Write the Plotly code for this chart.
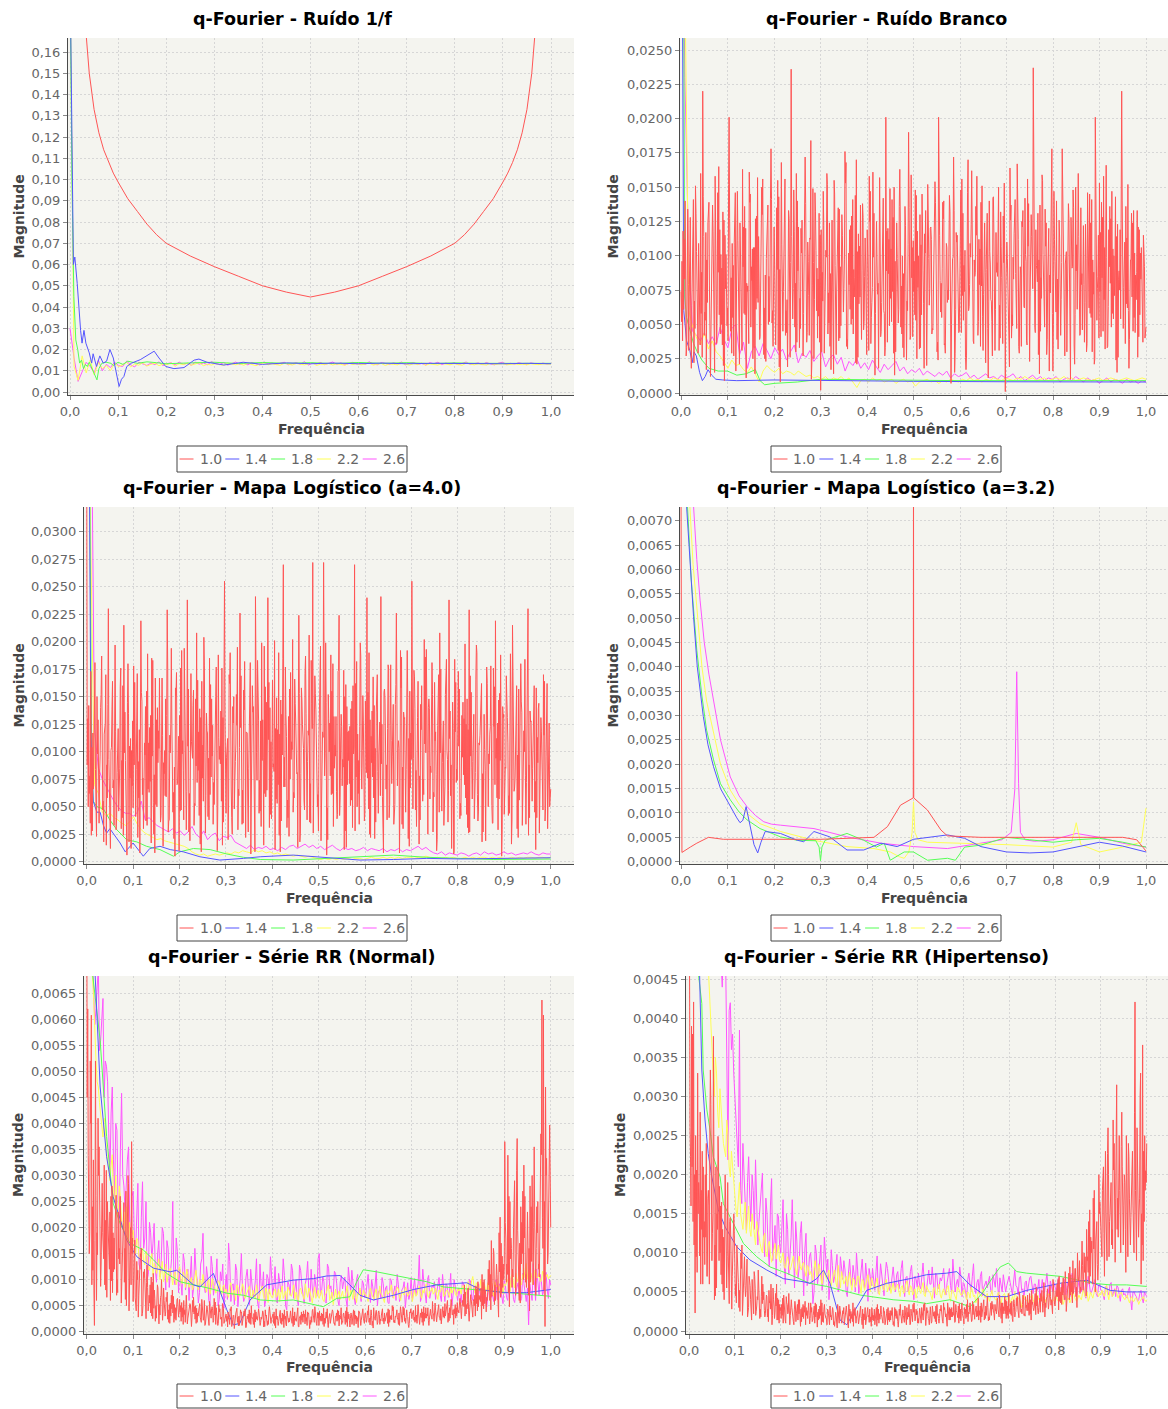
import numpy as np
import plotly.graph_objects as go

W, H = 1168, 1409

SERIES_NAMES = ["1.0", "1.4", "1.8", "2.2", "2.6"]
SERIES_COLORS = ["#ff5555", "#5555ff", "#55ff55", "#ffff55", "#ff55ff"]

U4 = 1e-4
U5 = 1e-5

# Dense spectra are stored in interleaved parts: "_a", "_b" (and "_c") hold
# samples 0,1(,2) of every group of consecutive bins on the same grid.

# ---------------- Ruído 1/f (units of 1e-4) ----------------
p1_red_f = [0.03, 0.035, 0.04, 0.05, 0.06, 0.07, 0.08, 0.09, 0.10, 0.12, 0.14, 0.16, 0.18, 0.20,
            0.25, 0.30, 0.35, 0.40, 0.45, 0.50, 0.55, 0.60, 0.65, 0.70, 0.75, 0.80, 0.82, 0.84,
            0.86, 0.88, 0.90, 0.91, 0.92, 0.93, 0.94, 0.95, 0.96, 0.965, 0.97]
p1_red_v = [1780, 1630, 1500, 1330, 1220, 1140, 1080, 1030, 988, 910, 850, 790, 740, 700,
            640, 590, 545, 500, 470, 447, 470, 500, 545, 590, 640, 700, 740, 790,
            850, 910, 988, 1030, 1080, 1140, 1220, 1330, 1500, 1630, 1780]
p1_blue_f = [0.0, 0.005, 0.007, 0.01, 0.015, 0.022, 0.025, 0.029, 0.033, 0.04, 0.045, 0.048,
             0.055, 0.062, 0.069, 0.076, 0.083, 0.09, 0.097, 0.102, 0.107, 0.112, 0.118, 0.128,
             0.146, 0.164, 0.175, 0.185, 0.199, 0.216, 0.237, 0.258, 0.268, 0.285, 0.32, 0.36,
             0.40, 0.45, 0.50, 0.55, 0.60, 0.65, 0.70, 0.75, 0.80, 0.85, 0.90, 0.95, 1.0]
p1_blue_v = [2000, 1000, 600, 635, 510, 290, 230, 290, 230, 184, 136, 180,
             120, 170, 136, 145, 200, 160, 73, 26, 60, 73, 120, 136,
             152, 176, 192, 160, 120, 110, 115, 150, 155, 140, 127, 140,
             130, 137, 133, 136, 133, 136, 133, 135, 134, 136, 133, 135, 133]
p1_green_f = [0.0, 0.004, 0.008, 0.012, 0.016, 0.02, 0.024, 0.028, 0.032, 0.036, 0.04, 0.046,
              0.052, 0.056, 0.06, 0.066, 0.075, 0.085, 0.09, 0.1, 0.11, 0.12, 0.14, 0.16, 0.18,
              0.2, 0.25, 0.3, 0.35, 0.4, 0.45, 0.5, 0.55, 0.6, 0.65, 0.7, 0.75, 0.8, 0.85,
              0.9, 0.95, 1.0]
p1_green_v = [2000, 1000, 450, 245, 200, 136, 150, 110, 130, 120, 140, 110,
              80, 57, 110, 135, 140, 135, 125, 140, 130, 145, 135, 142, 138,
              133, 137, 140, 134, 139, 135, 138, 134, 139, 135, 138, 134, 137, 135,
              136, 134, 135]
p1_yellow = [2000, 120, 55, 170, 90, 150, 80, 140, 110, 125,
             100, 135, 120, 128, 140, 118, 132, 126, 138, 122,
             130, 136, 124, 131, 128, 137, 121, 133, 129, 135,
             126, 132, 138, 124, 130, 127, 134, 129, 125, 136,
             131, 128, 133, 126, 135, 130, 124, 132, 137, 128,
             133, 129, 126, 135, 131, 127, 134, 130, 128, 132,
             136, 125, 131, 129, 134, 127, 132, 130, 126, 135,
             129, 133, 128, 131, 136, 127, 130, 134, 125, 132,
             130, 128, 135, 131, 127, 133, 129, 136, 126, 132,
             131, 127, 134, 130, 128, 133, 129, 126, 135, 131,
             128, 132, 130, 127, 134, 129, 131, 133, 128, 130,
             132, 129, 131, 128, 133, 130, 129, 132, 130, 131]
p1_magenta = [300, 160, 50, 95, 140, 120, 90, 150, 100, 130,
              115, 140, 125, 120, 145, 128, 118, 140, 132, 125,
              136, 129, 142, 124, 133, 138, 127, 141, 130, 135,
              126, 140, 131, 137, 128, 143, 133, 129, 139, 126,
              134, 141, 130, 136, 128, 139, 133, 127, 142, 131,
              137, 129, 135, 140, 128, 134, 138, 130, 143, 127,
              136, 132, 139, 129, 134, 141, 130, 137, 128, 135,
              140, 131, 136, 129, 142, 133, 128, 138, 134, 130,
              137, 132, 141, 128, 135, 139, 130, 134, 127, 138,
              133, 140, 129, 136, 131, 138, 128, 135, 141, 130,
              134, 137, 129, 139, 132, 128, 136, 140, 130, 135,
              131, 138, 133, 129, 137, 134, 130, 136, 132, 135]

# ---------------- Ruído Branco (units of 1e-4) ----------------
p2_red_a = [74, 38, 112, 55, 96, 31, 128, 64, 141, 47,
            103, 29, 84, 58, 220, 42, 117, 66, 139, 12,
            95, 71, 158, 36, 88, 119, 50, 132, 9, 101,
            62, 201, 45, 109, 27, 146, 83, 57, 124, 39,
            92, 136, 11, 78, 161, 48, 105, 33, 127, 69,
            114, 41, 150, 86, 25, 98, 137, 52, 178, 60,
            121, 35, 90, 143, 8, 108, 74, 156, 44, 99,
            65, 236, 54, 118, 30, 140, 81, 47, 126, 58,
            172, 37, 96, 113, 10, 149, 68, 104, 40, 131,
            2, 88, 122, 55, 160, 73, 34, 110, 63, 145,
            28, 97, 134, 49, 115, 76, 153, 39, 102, 61,
            129, 43, 84, 170, 26, 107, 71, 138, 52, 94,
            119, 31, 147, 66, 99, 13, 125, 80, 157, 45,
            91, 58, 201, 37, 112, 69, 141, 29, 96, 124,
            51, 163, 78, 33, 118, 87, 60, 135, 42, 106,
            74, 148, 25, 100, 130, 57, 89, 116, 38, 152,
            64, 121, 47, 93, 139, 30, 201, 82, 55, 127,
            36, 109, 75, 144, 7, 98, 133, 61, 115, 44,
            90, 156, 53, 104, 27, 170, 79, 123, 41, 97,
            136, 59, 112, 34, 151, 72, 88, 128, 11, 103,
            67, 142, 46, 117, 85, 31, 132, 58, 95, 1,
            110, 77, 164, 40, 99, 126, 54, 145, 29, 86,
            121, 63, 101, 35, 138, 70, 114, 237, 48, 93,
            131, 14, 84, 155, 61, 107, 39, 120, 73, 178,
            50, 96, 140, 32, 113, 68, 149, 44, 102, 81,
            127, 10, 91, 135, 57, 108, 160, 42, 79, 118,
            37, 98, 146, 62, 124, 30, 88, 201, 53, 115,
            74, 139, 45, 106, 166, 34, 92, 127, 58, 100,
            143, 15, 83, 119, 220, 47, 110, 65, 152, 39,
            97, 124, 55, 86, 133, 41, 102, 69, 115, 40]
p2_red_b = [52, 118, 83, 27, 134, 70, 41, 96, 22, 151,
            66, 109, 35, 88, 143, 59, 17, 124, 78, 46,
            137, 30, 102, 64, 165, 43, 91, 20, 115, 72,
            38, 127, 84, 55, 110, 16, 147, 69, 98, 31,
            121, 57, 80, 39, 139, 92, 25, 106, 61, 157,
            45, 99, 130, 28, 86, 117, 50, 73, 141, 34,
            94, 62, 155, 19, 107, 81, 125, 42, 68, 133,
            26, 114, 76, 48, 160, 89, 33, 120, 56, 101,
            138, 44, 71, 112, 23, 95, 146, 60, 83, 37,
            119, 67, 29, 104, 152, 51, 87, 126, 14, 93,
            75, 135, 40, 111, 63, 97, 168, 32, 79, 122,
            54, 90, 144, 21, 116, 70, 39, 128, 85, 47,
            103, 158, 36, 77, 131, 58, 94, 18, 113, 66,
            142, 27, 89, 120, 49, 105, 74, 150, 30, 98,
            61, 125, 43, 87, 136, 24, 108, 72, 159, 41,
            96, 53, 118, 80, 33, 145, 65, 102, 20, 129,
            76, 112, 46, 154, 88, 37, 123, 59, 91, 140,
            29, 106, 68, 132, 50, 99, 15, 117, 82, 45,
            148, 71, 93, 26, 127, 60, 109, 162, 38, 85,
            115, 42, 79, 139, 56, 100, 22, 131, 67, 94,
            52, 143, 31, 88, 121, 64, 107, 36, 153, 75,
            98, 19, 126, 57, 83, 141, 47, 112, 70, 34,
            133, 62, 96, 156, 25, 104, 78, 119, 44, 90,
            28, 137, 69, 101, 48, 124, 86, 16, 110, 58,
            147, 81, 39, 118, 65, 95, 134, 27, 103, 73,
            53, 128, 92, 35, 150, 61, 114, 43, 87, 122,
            66, 30, 108, 145, 55, 97, 21, 129, 76, 40,
            117, 84, 158, 32, 99, 63, 136, 48, 105, 71,
            24, 123, 89, 54, 140, 77, 36, 113, 60, 96,
            131, 45, 102, 68, 26, 119, 83, 52, 108, 44]
p2_red_c = [96, 61, 140, 33, 79, 122, 18, 105, 67, 131,
            44, 88, 160, 26, 114, 53, 97, 138, 40, 72,
            118, 15, 84, 146, 57, 101, 35, 126, 76, 49,
            152, 68, 29, 93, 134, 47, 111, 21, 87, 163,
            58, 120, 74, 36, 145, 82, 106, 14, 129, 66,
            39, 98, 156, 62, 23, 117, 85, 142, 51, 104,
            73, 135, 31, 90, 168, 45, 112, 60, 19, 127,
            95, 54, 148, 80, 37, 121, 69, 102, 27, 139,
            63, 110, 42, 184, 78, 25, 132, 91, 56, 115,
            30, 147, 71, 99, 43, 124, 17, 86, 155, 64,
            108, 38, 92, 130, 59, 176, 34, 81, 119, 50,
            141, 70, 22, 103, 65, 137, 89, 46, 113, 28,
            83, 125, 55, 161, 20, 97, 72, 143, 41, 106,
            60, 33, 118, 87, 149, 52, 128, 13, 94, 75,
            136, 48, 100, 26, 122, 67, 190, 39, 84, 111,
            57, 144, 77, 32, 108, 91, 18, 133, 62, 98,
            120, 43, 86, 154, 69, 24, 115, 80, 139, 35,
            101, 66, 127, 50, 93, 172, 29, 110, 58, 82,
            44, 131, 74, 17, 146, 63, 99, 121, 36, 88,
            158, 52, 105, 78, 31, 124, 90, 47, 140, 68,
            27, 113, 61, 95, 150, 40, 84, 129, 56, 103,
            73, 19, 137, 49, 116, 87, 167, 34, 92, 125,
            64, 142, 38, 107, 23, 130, 76, 53, 119, 81,
            97, 45, 159, 70, 134, 28, 101, 86, 145, 16,
            112, 59, 83, 126, 42, 178, 67, 94, 30, 138,
            55, 104, 148, 21, 89, 117, 63, 135, 46, 79,
            123, 36, 96, 58, 141, 72, 25, 109, 85, 153,
            41, 128, 68, 100, 33, 119, 80, 147, 54, 91,
            114, 26, 75, 162, 49, 102, 136, 62, 18, 97,
            70, 133, 44, 88, 121, 57, 106, 37, 92, 48]
p2_blue_f = [0.0, 0.003, 0.006, 0.012, 0.019, 0.024, 0.028, 0.033, 0.040, 0.046, 0.052, 0.058,
             0.066, 0.075, 0.09, 0.12, 0.2, 0.3, 0.5, 0.7, 0.85, 1.0]
p2_blue_v = [900, 300, 60, 38, 31, 22, 30, 27, 15, 9, 12, 17,
             13, 10, 9.5, 9, 9.5, 9, 8.5, 8.2, 8, 8]
p2_green_f = [0.0, 0.004, 0.008, 0.012, 0.02, 0.027, 0.035, 0.045, 0.06, 0.08, 0.1, 0.12,
              0.14, 0.16, 0.17, 0.18, 0.2, 0.25, 0.3, 0.35, 0.45, 0.6, 0.8, 1.0]
p2_green_v = [900, 400, 70, 55, 45, 36, 30, 24, 18, 16, 16, 13,
              14, 17, 9, 6, 7, 8, 10, 10, 9.5, 9, 9, 9]
p2_yellow = [450, 300, 60, 48, 40, 35, 44, 32, 38, 30,
             27, 22, 18, 24, 20, 21, 17, 15, 19, 14,
             8, 16, 20, 17, 15, 18, 14, 16, 15, 13,
             16, 14, 12, 13, 11, 12, 10, 12, 9, 11,
             10, 12, 9, 11, 8, 4, 9, 10, 8, 11,
             9, 10, 8, 9, 10, 7, 9, 10, 8, 9,
             5, 8, 9, 10, 8, 9, 7, 9, 8, 10,
             9, 8, 10, 9, 11, 9, 10, 8, 10, 9,
             11, 10, 9, 11, 10, 9, 11, 10, 12, 10,
             11, 9, 10, 11, 9, 10, 11, 10, 12, 10,
             11, 9, 10, 11, 10, 9, 10, 11, 9, 10,
             11, 10, 9, 10, 11, 10, 9, 10, 11, 10]
p2_magenta = [450, 230, 95, 45, 42, 38, 44, 36, 41, 35,
              48, 39, 33, 47, 50, 28, 37, 18, 30, 34,
              27, 36, 31, 25, 33, 28, 32, 24, 30, 35,
              22, 29, 26, 31, 23, 27, 30, 19, 25, 28,
              21, 26, 16, 23, 20, 25, 18, 22, 17, 24,
              19, 15, 21, 17, 20, 23, 16, 19, 14, 17,
              15, 18, 13, 16, 14, 12, 15, 13, 16, 11,
              14, 12, 13, 15, 11, 13, 10, 12, 14, 11,
              12, 10, 13, 11, 12, 14, 10, 12, 9, 11,
              13, 10, 12, 9, 11, 10, 12, 8, 10, 11,
              9, 12, 10, 8, 11, 9, 10, 7, 9, 11,
              8, 10, 9, 7, 10, 8, 9, 7, 9, 8]

# ---------------- Mapa Logístico a=4.0 (units of 1e-4) ----------------
p3_red_a = [400, 50, 78, 24, 117, 159, 62, 98, 35, 140,
            71, 18, 126, 88, 230, 45, 104, 67, 152, 29,
            113, 58, 176, 40, 215, 92, 6, 135, 76, 101,
            49, 163, 84, 22, 120, 219, 61, 97, 141, 33,
            108, 73, 185, 54, 8, 129, 90, 167, 42, 115,
            80, 148, 229, 37, 99, 125, 63, 5, 172, 86,
            133, 47, 110, 194, 70, 238, 27, 122, 94, 156,
            51, 208, 83, 139, 9, 106, 178, 60, 117, 38,
            161, 96, 72, 143, 30, 188, 105, 55, 131, 255,
            44, 112, 170, 79, 25, 150, 91, 124, 66, 226,
            100, 35, 182, 118, 57, 137, 7, 160, 87, 241,
            74, 128, 46, 199, 95, 62, 145, 240, 31, 109,
            165, 82, 121, 53, 190, 9, 134, 270, 68, 114,
            40, 157, 93, 202, 58, 127, 81, 224, 26, 147,
            103, 171, 64, 119, 36, 183, 272, 88, 138, 50,
            111, 196, 73, 272, 98, 6, 152, 126, 61, 180,
            85, 132, 43, 224, 107, 69, 174, 28, 141, 92,
            123, 56, 160, 270, 77, 116, 34, 187, 101, 65,
            146, 240, 48, 129, 90, 168, 21, 136, 82, 113,
            241, 59, 154, 97, 38, 175, 124, 71, 143, 52,
            226, 104, 8, 158, 86, 130, 45, 192, 112, 67,
            255, 94, 139, 32, 164, 78, 120, 55, 202, 99,
            41, 148, 87, 181, 63, 110, 10, 155, 208, 75,
            127, 49, 166, 93, 238, 60, 137, 7, 118, 84,
            173, 39, 106, 145, 70, 125, 31, 229, 96, 57,
            134, 81, 190, 46, 115, 162, 27, 102, 140, 66,
            89, 178, 35, 123, 219, 58, 147, 92, 5, 131,
            76, 169, 108, 44, 150, 215, 64, 119, 30, 157,
            98, 136, 52, 184, 72, 230, 40, 128, 85, 160,
            11, 113, 144, 61, 99, 170, 37, 122, 74, 50]
p3_red_b = [88, 142, 35, 104, 66, 181, 23, 129, 79, 152,
            47, 116, 170, 58, 93, 12, 138, 74, 197, 40,
            121, 85, 30, 160, 99, 54, 145, 18, 112, 69,
            178, 43, 127, 91, 8, 154, 76, 108, 37, 189,
            63, 133, 96, 25, 167, 50, 119, 82, 143, 14,
            101, 59, 175, 38, 126, 87, 21, 158, 70, 114,
            46, 192, 83, 137, 29, 105, 62, 171, 94, 33,
            148, 72, 118, 16, 164, 55, 99, 135, 41, 185,
            77, 124, 52, 150, 10, 113, 89, 176, 36, 131,
            95, 20, 162, 67, 141, 48, 107, 195, 60, 122,
            34, 156, 84, 117, 27, 172, 73, 136, 53, 100,
            183, 44, 128, 92, 15, 159, 65, 111, 140, 39,
            86, 201, 57, 120, 24, 147, 97, 68, 177, 31,
            132, 75, 109, 45, 166, 90, 13, 153, 80, 125,
            56, 187, 38, 115, 71, 144, 26, 169, 102, 61,
            139, 19, 118, 87, 199, 49, 130, 78, 155, 32,
            106, 64, 173, 42, 134, 93, 11, 161, 70, 119,
            51, 146, 98, 28, 182, 62, 123, 85, 151, 37,
            114, 76, 190, 22, 137, 58, 103, 168, 44, 127,
            89, 17, 157, 66, 121, 40, 179, 96, 34, 143,
            72, 110, 55, 186, 30, 131, 84, 149, 14, 117,
            63, 174, 47, 125, 92, 38, 160, 75, 107, 193,
            25, 139, 81, 152, 59, 118, 20, 170, 99, 46,
            128, 68, 184, 36, 112, 88, 145, 9, 163, 74,
            105, 53, 133, 79, 198, 43, 120, 27, 154, 91,
            39, 166, 61, 108, 141, 18, 129, 83, 177, 50,
            116, 71, 35, 159, 94, 126, 57, 188, 29, 134,
            86, 148, 42, 103, 16, 171, 67, 124, 97, 56,
            180, 33, 119, 78, 150, 24, 137, 64, 109, 45,
            158, 90, 26, 131, 73, 115, 48, 162, 85, 60]
p3_red_c = [130, 62, 173, 28, 111, 84, 150, 39, 96, 187,
            55, 125, 15, 143, 72, 101, 164, 33, 118, 81,
            46, 159, 92, 24, 136, 67, 180, 105, 12, 128,
            88, 41, 171, 58, 114, 146, 30, 97, 155, 66,
            122, 17, 183, 79, 52, 140, 103, 36, 167, 90,
            60, 133, 27, 115, 194, 45, 86, 151, 71, 10,
            176, 98, 38, 124, 64, 157, 19, 109, 142, 53,
            87, 165, 42, 131, 76, 204, 26, 119, 94, 61,
            148, 34, 112, 177, 50, 93, 137, 15, 160, 82,
            110, 57, 190, 40, 126, 73, 152, 29, 104, 169,
            65, 138, 22, 117, 85, 181, 48, 141, 9, 99,
            156, 74, 32, 129, 196, 59, 107, 163, 43, 120,
            89, 11, 149, 70, 116, 37, 185, 95, 134, 56,
            23, 172, 102, 63, 144, 80, 127, 18, 158, 108,
            47, 135, 91, 206, 35, 121, 68, 153, 84, 28,
            166, 54, 113, 78, 145, 20, 100, 188, 62, 132,
            96, 39, 174, 58, 123, 86, 150, 13, 118, 71,
            139, 31, 105, 162, 50, 92, 199, 66, 128, 44,
            81, 154, 25, 114, 77, 142, 36, 170, 97, 60,
            125, 8, 147, 88, 179, 52, 110, 133, 41, 161,
            69, 103, 192, 34, 136, 75, 120, 21, 155, 93,
            48, 168, 83, 131, 16, 143, 99, 61, 186, 108,
            140, 57, 116, 27, 163, 79, 124, 45, 175, 90,
            33, 152, 101, 65, 137, 12, 121, 184, 72, 111,
            157, 42, 95, 130, 58, 148, 26, 169, 86, 119,
            64, 197, 37, 106, 145, 80, 134, 19, 162, 98,
            123, 51, 176, 70, 112, 29, 153, 94, 141, 43,
            85, 131, 60, 189, 38, 117, 76, 160, 22, 109,
            146, 67, 100, 34, 172, 88, 127, 55, 154, 73,
            40, 139, 82, 118, 47, 164, 96, 30, 126, 66]
p3_blue_f = [0.0, 0.005, 0.009, 0.014, 0.022, 0.029, 0.036, 0.043, 0.05, 0.072, 0.083, 0.1,
             0.122, 0.136, 0.158, 0.18, 0.208, 0.244, 0.287, 0.338, 0.374, 0.445, 0.517,
             0.553, 0.589, 0.661, 0.733, 0.805, 0.876, 1.0]
p3_blue_v = [800, 400, 117, 55, 45, 45, 33, 26, 30, 17, 9, 17,
             5, 12, 14, 11, 9, 4.5, 1.5, 3, 4.5, 6, 4,
             3, 1.5, 2, 3, 2.5, 3, 3.6]
p3_green_f = [0.0, 0.006, 0.011, 0.014, 0.022, 0.036, 0.05, 0.065, 0.086, 0.108, 0.129, 0.158,
              0.187, 0.201, 0.23, 0.266, 0.302, 0.338, 0.374, 0.445, 0.517, 0.589, 0.661,
              0.733, 0.805, 0.876, 1.0]
p3_green_v = [700, 400, 86, 55, 50, 48, 38, 29, 20, 18, 14, 11,
              5, 9, 12, 11, 7, 4, 2, 1.5, 3, 5, 6,
              4, 3, 2, 2.4]
p3_yellow = [600, 300, 70, 62, 45, 42, 44, 40, 38, 35,
             33, 36, 41, 34, 29, 26, 24, 22, 20, 21,
             19, 18, 17, 16, 15, 14, 12, 9, 7, 6,
             7, 5, 6, 7, 6, 7, 8, 7, 9, 8,
             10, 9, 8, 11, 9, 10, 8, 9, 7, 8,
             6, 7, 6, 5, 6, 5, 4, 5, 4, 3,
             2, 3, 2, 3, 2, 3, 2, 3, 2, 3,
             3, 2, 3, 4, 3, 3, 4, 3, 4, 3,
             4, 3, 4, 4, 3, 4, 4, 5, 4, 3,
             4, 3, 4, 3, 4, 3, 3, 4, 3, 4,
             3, 4, 4, 3, 4, 3, 4, 3, 3, 4,
             3, 4, 3, 4, 4, 3, 4, 4, 3, 4]
p3_magenta = [600, 500, 120, 85, 75, 68, 62, 55, 50, 46,
              44, 44, 41, 45, 55, 38, 40, 36, 33, 31,
              29, 27, 30, 26, 28, 24, 27, 32, 25, 22,
              28, 20, 24, 26, 19, 23, 22, 24, 18, 16,
              14, 12, 15, 11, 13, 12, 14, 11, 12, 10,
              13, 11, 14, 15, 12, 14, 16, 13, 15, 12,
              14, 11, 13, 15, 12, 10, 13, 11, 12, 10,
              11, 13, 10, 12, 11, 10, 12, 9, 11, 10,
              12, 9, 11, 10, 12, 14, 11, 13, 10, 8,
              7, 9, 6, 8, 7, 6, 8, 7, 5, 7,
              8, 6, 9, 7, 8, 6, 7, 9, 7, 8,
              6, 7, 8, 7, 9, 7, 6, 8, 7, 7]

# ---------------- Mapa Logístico a=3.2 (units of 1e-5) ----------------
p4_red_f = [0.0, 0.002, 0.02, 0.034, 0.059, 0.07, 0.091, 0.2, 0.3, 0.415, 0.444, 0.472,
            0.4995, 0.5, 0.5005, 0.53, 0.559, 0.573, 0.645, 0.8, 0.95, 0.98, 1.0]
p4_red_v = [800, 19, 30, 38, 50, 49, 46, 46, 46, 50, 72, 116,
            131, 800, 131, 106, 65, 53, 50, 50, 50, 45, 22]
p4_blue_f = [0.0, 0.008, 0.012, 0.02, 0.027, 0.035, 0.048, 0.058, 0.07, 0.085, 0.106, 0.12,
             0.127, 0.133, 0.14, 0.145, 0.149, 0.157, 0.165, 0.172, 0.181, 0.214, 0.25, 0.264,
             0.286, 0.32, 0.357, 0.393, 0.43, 0.465, 0.5, 0.537, 0.573, 0.61, 0.645, 0.7,
             0.75, 0.8, 0.85, 0.9, 0.95, 1.0]
p4_blue_v = [2000, 1000, 730, 600, 503, 400, 298, 240, 195, 150, 113, 90,
             80, 85, 113, 90, 65, 35, 18, 40, 62, 58, 44, 41,
             62, 51, 24, 24, 38, 31, 46, 50, 55, 48, 31, 20,
             18, 20, 30, 40, 32, 20]
p4_green_f = [0.0, 0.01, 0.014, 0.022, 0.034, 0.045, 0.055, 0.07, 0.085, 0.106, 0.125, 0.142,
              0.17, 0.214, 0.25, 0.29, 0.297, 0.3, 0.303, 0.31, 0.357, 0.393, 0.42, 0.437,
              0.45, 0.48, 0.5, 0.53, 0.573, 0.59, 0.61, 0.645, 0.7, 0.75, 0.8, 0.85,
              0.9, 0.95, 1.0]
p4_green_v = [2000, 1000, 730, 580, 434, 340, 270, 209, 160, 127, 102, 86,
              68, 51, 44, 43, 30, 2, 30, 44, 58, 44, 30, 38,
              3, 20, 20, 3, 7, 3, 30, 34, 50, 45, 40, 45,
              48, 40, 30]
p4_yellow_f = [0.0, 0.012, 0.019, 0.026, 0.034, 0.045, 0.055, 0.07, 0.085, 0.106, 0.125, 0.142,
               0.17, 0.214, 0.286, 0.357, 0.415, 0.45, 0.47, 0.48, 0.49, 0.497, 0.5, 0.503,
               0.51, 0.53, 0.6, 0.7, 0.8, 0.84, 0.85, 0.86, 0.9, 0.95, 0.99, 1.0]
p4_yellow_v = [2000, 1000, 730, 610, 523, 400, 330, 263, 200, 147, 118, 99,
               78, 62, 44, 31, 27, 20, 10, 7, 20, 60, 123, 60,
               45, 40, 38, 35, 30, 40, 80, 35, 20, 30, 40, 110]
p4_magenta_f = [0.0, 0.02, 0.027, 0.034, 0.041, 0.05, 0.06, 0.07, 0.085, 0.106, 0.125, 0.142,
                0.16, 0.178, 0.195, 0.214, 0.25, 0.286, 0.32, 0.357, 0.43, 0.5, 0.573, 0.645,
                0.69, 0.71, 0.718, 0.722, 0.726, 0.73, 0.74, 0.76, 0.8, 0.85, 0.9, 0.95, 1.0]
p4_magenta_v = [2000, 900, 730, 620, 537, 450, 385, 332, 250, 174, 135, 113,
                95, 82, 77, 75, 71, 68, 60, 51, 38, 31, 27, 38,
                45, 60, 150, 390, 160, 60, 45, 42, 45, 58, 50, 38, 30]

# ---------------- Série RR Normal (units of 1e-5) ----------------
p5_red_a = [900, 338, 192, 608, 118, 12, 262, 148, 355, 87,
            285, 140, 214, 66, 172, 230, 98, 190, 120, 262,
            75, 160, 205, 110, 248, 62, 138, 285, 92, 365,
            58, 176, 40, 118, 96, 144, 35, 104, 72, 128,
            48, 90, 30, 112, 64, 26, 84, 52, 70, 22,
            60, 38, 76, 18, 55, 44, 68, 25, 50, 35,
            62, 20, 46, 33, 58, 15, 40, 52, 28, 66,
            24, 45, 30, 54, 18, 38, 60, 26, 42, 12,
            36, 48, 22, 57, 30, 16, 44, 28, 50, 20,
            34, 9, 26, 40, 15, 31, 22, 45, 11, 28,
            38, 18, 30, 8, 25, 42, 14, 27, 35, 19,
            29, 44, 12, 24, 36, 10, 32, 21, 48, 16,
            26, 38, 7, 30, 20, 41, 14, 33, 24, 11,
            35, 19, 28, 46, 13, 25, 39, 9, 31, 22,
            40, 15, 27, 34, 6, 29, 43, 18, 24, 37,
            12, 30, 21, 45, 16, 26, 8, 35, 23, 39,
            17, 28, 42, 11, 31, 20, 36, 14, 47, 25,
            9, 33, 22, 40, 15, 27, 38, 12, 29, 19,
            36, 24, 50, 13, 31, 7, 26, 41, 18, 33,
            21, 44, 15, 28, 37, 10, 30, 23, 48, 17,
            34, 26, 12, 39, 22, 45, 16, 29, 8, 36,
            25, 41, 18, 32, 52, 14, 27, 38, 20, 46,
            30, 12, 43, 24, 35, 55, 19, 40, 28, 15,
            48, 26, 37, 60, 21, 44, 33, 14, 52, 30,
            41, 64, 25, 50, 90, 34, 56, 20, 71, 45,
            62, 30, 82, 48, 68, 24, 95, 54, 38, 76,
            137, 42, 88, 150, 60, 110, 28, 220, 74, 130,
            365, 95, 339, 48, 180, 120, 230, 70, 371, 140,
            55, 210, 100, 260, 85, 165, 40, 240, 118, 355,
            70, 190, 130, 290, 637, 608, 10, 333, 150, 397]
p5_red_b = [450, 280, 520, 90, 330, 175, 60, 410, 210, 130,
            190, 320, 80, 250, 145, 60, 280, 115, 205, 70,
            230, 130, 55, 180, 95, 270, 120, 40, 200, 150,
            110, 65, 135, 28, 90, 160, 50, 120, 25, 85,
            70, 36, 95, 45, 20, 78, 58, 32, 100, 40,
            44, 66, 24, 52, 30, 80, 18, 46, 62, 28,
            38, 56, 14, 42, 70, 26, 48, 20, 60, 34,
            50, 18, 40, 28, 62, 22, 12, 46, 34, 58,
            26, 40, 64, 14, 34, 52, 24, 10, 44, 30,
            20, 38, 14, 48, 24, 6, 36, 18, 30, 42,
            12, 28, 44, 20, 34, 16, 50, 24, 8, 38,
            22, 36, 18, 30, 9, 42, 26, 14, 38, 24,
            34, 12, 44, 22, 28, 16, 36, 8, 30, 40,
            18, 30, 24, 10, 38, 20, 46, 26, 14, 34,
            28, 42, 12, 36, 22, 18, 32, 48, 16, 26,
            40, 20, 34, 10, 28, 44, 24, 16, 38, 30,
            12, 36, 22, 32, 46, 18, 28, 40, 10, 34,
            26, 14, 42, 24, 30, 8, 36, 22, 44, 16,
            28, 40, 18, 34, 12, 46, 22, 30, 38, 14,
            32, 20, 36, 26, 16, 42, 24, 50, 18, 30,
            42, 14, 30, 24, 48, 20, 36, 28, 16, 44,
            34, 22, 50, 16, 38, 28, 44, 12, 36, 26,
            46, 24, 32, 58, 20, 40, 30, 52, 22, 36,
            28, 54, 40, 18, 46, 62, 32, 44, 26, 56,
            36, 58, 46, 72, 30, 52, 84, 40, 62, 28,
            50, 88, 40, 70, 58, 110, 44, 80, 66, 120,
            60, 175, 95, 52, 125, 80, 190, 66, 145, 100,
            210, 130, 75, 250, 160, 105, 290, 90, 195, 60,
            240, 150, 320, 95, 185, 70, 280, 135, 90, 210,
            160, 250, 105, 380, 220, 80, 470, 190, 260, 300]
p5_red_c = [620, 150, 400, 240, 80, 520, 190, 300, 110, 230,
            160, 90, 310, 200, 120, 260, 75, 180, 240, 100,
            140, 260, 85, 210, 160, 50, 300, 130, 90, 180,
            140, 45, 100, 70, 150, 30, 115, 60, 95, 40,
            55, 105, 25, 80, 50, 90, 15, 66, 38, 84,
            30, 58, 42, 16, 70, 36, 52, 22, 64, 40,
            50, 28, 60, 18, 44, 32, 54, 10, 38, 48,
            16, 36, 52, 20, 44, 30, 14, 50, 24, 40,
            44, 18, 32, 46, 12, 38, 26, 54, 16, 34,
            30, 24, 44, 10, 32, 20, 40, 28, 12, 36,
            22, 40, 8, 30, 18, 36, 26, 14, 42, 24,
            34, 14, 28, 40, 20, 30, 12, 38, 18, 28,
            16, 30, 24, 12, 36, 26, 20, 42, 14, 32,
            26, 40, 16, 30, 22, 34, 10, 28, 38, 18,
            34, 20, 38, 26, 14, 40, 22, 30, 12, 36,
            22, 36, 14, 26, 38, 18, 32, 24, 42, 16,
            30, 20, 40, 24, 14, 34, 26, 18, 38, 22,
            36, 24, 12, 32, 20, 40, 16, 30, 26, 34,
            18, 32, 26, 42, 20, 28, 36, 14, 40, 24,
            38, 26, 20, 34, 44, 18, 32, 40, 22, 28,
            24, 36, 48, 18, 32, 26, 42, 14, 38, 30,
            40, 28, 20, 44, 30, 36, 18, 48, 26, 34,
            22, 42, 30, 36, 48, 24, 38, 28, 44, 32,
            40, 30, 50, 36, 26, 56, 42, 34, 46, 38,
            50, 40, 60, 48, 76, 44, 36, 66, 52, 58,
            70, 54, 96, 62, 84, 50, 100, 72, 60, 90,
            110, 68, 160, 90, 130, 75, 115, 170, 85, 120,
            180, 110, 260, 140, 85, 200, 150, 310, 120, 170,
            130, 270, 180, 110, 230, 160, 95, 300, 200, 150,
            240, 120, 200, 340, 160, 250, 300, 130, 280, 200]
p5_blue_f = [0.0, 0.018, 0.029, 0.043, 0.057, 0.086, 0.108, 0.144, 0.18, 0.194, 0.23, 0.244,
             0.273, 0.302, 0.316, 0.33, 0.352, 0.388, 0.445, 0.489, 0.517, 0.546, 0.567, 0.589,
             0.618, 0.661, 0.704, 0.754, 0.819, 0.848, 0.898, 0.948, 1.0]
p5_blue_v = [1500, 690, 470, 336, 259, 176, 144, 122, 115, 118, 90, 86,
             112, 42, 13, 16, 61, 90, 99, 102, 107, 108, 90, 70,
             61, 70, 81, 90, 94, 81, 75, 75, 81]
p5_green_f = [0.0, 0.011, 0.029, 0.043, 0.057, 0.072, 0.093, 0.122, 0.144, 0.172, 0.201, 0.23,
              0.266, 0.302, 0.338, 0.374, 0.409, 0.445, 0.481, 0.51, 0.539, 0.567, 0.582, 0.596,
              0.625, 0.661, 0.697, 0.733, 0.769, 0.805, 0.876, 0.948, 1.0]
p5_green_v = [1500, 700, 560, 375, 247, 208, 170, 157, 138, 112, 96, 90,
              83, 74, 70, 61, 59, 61, 54, 48, 64, 67, 96, 119,
              115, 109, 102, 96, 86, 83, 77, 72, 68]
p5_yellow_a = [1500, 900, 700, 640, 520, 470, 420, 374, 400, 330,
               290, 340, 250, 233, 280, 210, 190, 240, 182, 160,
               195, 150, 175, 140, 160, 128, 144, 118, 150, 131,
               112, 140, 118, 96, 130, 105, 122, 90, 115, 100,
               125, 92, 108, 120, 85, 104, 96, 118, 80, 98,
               110, 84, 95, 72, 102, 88, 78, 96, 70, 90,
               82, 66, 94, 75, 60, 86, 70, 92, 64, 78,
               88, 62, 74, 90, 58, 80, 68, 84, 56, 72,
               65, 82, 70, 58, 88, 74, 62, 80, 68, 90,
               76, 60, 84, 70, 92, 66, 78, 55, 86, 72,
               64, 80, 58, 74, 90, 68, 52, 82, 70, 62,
               78, 66, 88, 60, 74, 82, 56, 70, 64, 80,
               72, 58, 84, 68, 76, 62, 88, 70, 56, 80,
               74, 90, 64, 78, 82, 60, 72, 86, 68, 76,
               58, 80, 70, 88, 64, 74, 92, 66, 78, 72,
               84, 62, 76, 90, 70, 80, 66, 74, 86, 68,
               78, 72, 88, 64, 96, 80, 106, 74, 90, 84,
               70, 92, 80, 76, 98, 68, 86, 78, 94, 72,
               88, 100, 76, 110, 84, 96, 118, 90, 104, 131,
               98, 112, 90, 120, 104, 96, 116, 100, 110, 106]
p5_yellow_b = [1200, 800, 680, 560, 480, 440, 390, 410, 350, 310,
               320, 260, 300, 220, 260, 200, 230, 175, 210, 185,
               165, 180, 140, 160, 135, 155, 120, 140, 110, 125,
               125, 100, 135, 110, 95, 120, 100, 110, 90, 118,
               100, 115, 85, 110, 95, 80, 108, 88, 100, 86,
               92, 76, 100, 82, 90, 74, 98, 80, 86, 76,
               72, 88, 70, 80, 90, 68, 78, 84, 70, 86,
               70, 80, 64, 78, 72, 88, 62, 76, 82, 66,
               78, 66, 82, 72, 64, 78, 86, 70, 76, 62,
               68, 80, 72, 62, 76, 84, 66, 74, 64, 80,
               74, 62, 70, 84, 60, 76, 72, 64, 78, 70,
               64, 76, 70, 80, 62, 68, 74, 84, 66, 72,
               66, 78, 72, 62, 82, 70, 74, 64, 78, 72,
               80, 70, 76, 86, 66, 78, 70, 80, 74, 82,
               74, 68, 82, 72, 80, 86, 70, 78, 84, 76,
               70, 80, 84, 68, 78, 74, 86, 80, 72, 82,
               82, 88, 76, 92, 84, 98, 88, 94, 82, 100,
               86, 80, 94, 88, 82, 96, 90, 84, 100, 92,
               96, 90, 106, 94, 112, 100, 94, 110, 120, 104,
               108, 100, 116, 104, 112, 98, 110, 106, 102, 108]
p5_magenta_a = [1500, 900, 780, 680, 620, 700, 560, 640, 520, 480,
                300, 470, 260, 387, 220, 458, 280, 300, 355, 190,
                270, 150, 285, 120, 288, 180, 100, 210, 140, 208,
                95, 175, 130, 189, 80, 160, 110, 250, 90, 154,
                120, 70, 135, 100, 60, 145, 85, 115, 55, 130,
                189, 75, 105, 50, 125, 88, 140, 62, 98, 45,
                110, 170, 58, 92, 130, 48, 100, 80, 66, 120,
                52, 95, 74, 140, 45, 88, 115, 60, 102, 144,
                70, 125, 55, 98, 80, 108, 42, 90, 130, 64,
                100, 50, 118, 76, 92, 135, 58, 84, 110, 68,
                150, 78, 96, 55, 122, 88, 70, 112, 60, 95,
                82, 105, 48, 90, 118, 66, 100, 74, 58, 92,
                70, 110, 56, 86, 96, 50, 80, 104, 62, 88,
                54, 98, 76, 60, 90, 68, 84, 46, 94, 72,
                60, 102, 80, 147, 66, 92, 55, 108, 74, 85,
                62, 96, 70, 110, 58, 88, 78, 50, 100, 68,
                84, 56, 92, 72, 64, 98, 60, 80, 52, 76,
                70, 88, 48, 94, 66, 58, 100, 62, 80, 54,
                90, 60, 78, 102, 56, 84, 70, 64, 92, 58,
                13, 76, 131, 60, 88, 110, 70, 96, 80, 100]
p5_magenta_b = [1200, 820, 720, 590, 660, 540, 600, 450, 510, 380,
                420, 330, 400, 240, 350, 300, 230, 330, 210, 260,
                180, 240, 130, 220, 160, 250, 110, 190, 170, 120,
                150, 105, 200, 120, 175, 85, 140, 100, 180, 75,
                95, 150, 80, 120, 110, 65, 160, 100, 75, 140,
                90, 125, 60, 145, 70, 105, 50, 115, 130, 80,
                62, 135, 90, 52, 118, 76, 150, 58, 105, 85,
                120, 68, 98, 55, 130, 82, 48, 110, 72, 95,
                88, 60, 112, 76, 140, 50, 96, 70, 118, 84,
                62, 128, 90, 54, 104, 78, 120, 66, 92, 140,
                70, 105, 58, 130, 82, 64, 116, 92, 50, 108,
                96, 62, 124, 74, 88, 52, 110, 80, 98, 66,
                90, 74, 100, 60, 118, 78, 64, 92, 84, 56,
                102, 66, 88, 110, 58, 80, 96, 70, 62, 104,
                84, 70, 92, 58, 120, 76, 100, 64, 88, 96,
                78, 104, 58, 84, 92, 66, 112, 70, 86, 60,
                70, 96, 62, 82, 100, 68, 88, 74, 92, 64,
                90, 58, 76, 104, 70, 84, 62, 92, 72, 98,
                66, 88, 104, 62, 76, 94, 58, 112, 72, 84,
                92, 60, 84, 120, 70, 96, 78, 114, 64, 90]

# ---------------- Série RR Hipertenso (units of 1e-5) ----------------
p6_red_a = [700, 223, 210, 421, 23, 206, 150, 96, 180, 60,
            140, 120, 70, 160, 334, 90, 377, 110, 55, 249,
            185, 72, 130, 40, 165, 95, 60, 145, 28, 110,
            75, 36, 87, 52, 100, 20, 68, 44, 92, 30,
            58, 14, 48, 70, 25, 40, 62, 18, 35, 50,
            22, 44, 12, 38, 28, 55, 16, 32, 42, 10,
            30, 20, 46, 14, 36, 24, 8, 40, 18, 28,
            12, 34, 22, 6, 30, 16, 38, 20, 26, 9,
            24, 14, 32, 18, 5, 28, 20, 36, 11, 22,
            16, 27, 8, 20, 30, 12, 24, 4, 18, 26,
            10, 22, 15, 32, 7, 19, 25, 12, 28, 14,
            20, 9, 26, 16, 3, 22, 14, 30, 11, 18,
            24, 13, 19, 6, 28, 15, 21, 10, 25, 17,
            8, 23, 14, 30, 12, 19, 26, 5, 20, 16,
            27, 11, 22, 15, 34, 9, 18, 24, 13, 21,
            16, 29, 10, 20, 26, 7, 23, 14, 31, 12,
            19, 25, 9, 22, 16, 33, 12, 27, 18, 6,
            24, 14, 30, 20, 11, 26, 17, 35, 13, 22,
            9, 28, 18, 24, 36, 12, 21, 15, 32, 19,
            26, 11, 23, 40, 16, 29, 13, 25, 20, 34,
            14, 27, 42, 18, 24, 10, 31, 22, 38, 16,
            28, 20, 12, 35, 25, 44, 17, 30, 22, 40,
            19, 33, 26, 48, 14, 37, 29, 21, 45, 30,
            24, 52, 35, 18, 41, 28, 56, 33, 22, 46,
            38, 60, 27, 50, 34, 68, 42, 25, 58, 40,
            72, 36, 55, 80, 30, 64, 48, 88, 52, 75,
            45, 95, 60, 120, 70, 105, 50, 140, 82, 165,
            110, 190, 70, 150, 227, 95, 175, 130, 206, 88,
            315, 120, 180, 236, 140, 200, 75, 160, 223, 110,
            185, 130, 421, 90, 223, 170, 60, 366, 140, 205]
p6_red_b = [310, 160, 380, 110, 250, 75, 190, 280, 130, 210,
            85, 240, 170, 60, 290, 125, 200, 45, 150, 220,
            100, 165, 50, 135, 80, 190, 35, 120, 70, 150,
            45, 110, 62, 25, 80, 38, 95, 55, 18, 70,
            40, 66, 22, 54, 32, 78, 16, 44, 60, 26,
            36, 18, 52, 28, 8, 40, 24, 60, 14, 34,
            16, 42, 26, 10, 34, 48, 20, 30, 12, 38,
            22, 14, 40, 28, 18, 32, 8, 26, 36, 16,
            30, 20, 10, 34, 24, 16, 40, 12, 28, 18,
            8, 22, 32, 14, 26, 6, 20, 34, 10, 24,
            18, 30, 12, 24, 4, 28, 16, 36, 20, 10,
            26, 14, 32, 8, 22, 30, 12, 18, 28, 6,
            14, 28, 20, 34, 10, 24, 16, 30, 8, 22,
            30, 12, 26, 18, 6, 28, 22, 14, 34, 10,
            20, 32, 8, 24, 16, 28, 12, 36, 18, 26,
            10, 22, 30, 14, 36, 18, 26, 8, 20, 32,
            24, 12, 34, 16, 28, 20, 10, 30, 22, 36,
            14, 28, 18, 38, 12, 24, 32, 16, 26, 20,
            30, 16, 40, 22, 28, 14, 34, 24, 18, 42,
            20, 36, 26, 14, 32, 44, 18, 30, 38, 24,
            34, 22, 28, 46, 16, 36, 26, 40, 20, 48,
            22, 38, 30, 18, 42, 28, 50, 24, 34, 20,
            44, 26, 36, 22, 52, 30, 40, 56, 26, 38,
            48, 30, 62, 36, 44, 28, 58, 40, 66, 34,
            52, 44, 70, 36, 62, 48, 76, 40, 58, 82,
            50, 90, 62, 44, 100, 70, 56, 115, 66, 95,
            130, 75, 155, 100, 60, 180, 115, 85, 200, 140,
            95, 210, 160, 120, 260, 140, 190, 105, 240, 170,
            130, 200, 150, 280, 110, 190, 250, 95, 170, 145,
            230, 100, 180, 260, 120, 300, 150, 90, 250, 190]
p6_red_c = [260, 390, 140, 200, 95, 330, 170, 60, 230, 120,
            200, 70, 180, 260, 110, 150, 40, 210, 130, 90,
            160, 60, 120, 200, 55, 105, 140, 30, 90, 125,
            60, 95, 30, 75, 110, 42, 58, 85, 26, 64,
            30, 52, 76, 20, 44, 58, 28, 70, 40, 18,
            46, 28, 36, 60, 20, 32, 48, 14, 40, 26,
            34, 10, 28, 44, 22, 16, 38, 26, 8, 32,
            28, 40, 18, 12, 34, 24, 30, 16, 20, 36,
            12, 26, 36, 22, 14, 32, 8, 24, 34, 16,
            28, 12, 18, 30, 8, 24, 14, 20, 32, 12,
            26, 8, 20, 14, 34, 10, 22, 6, 30, 18,
            10, 24, 18, 28, 14, 8, 26, 20, 12, 30,
            20, 8, 30, 14, 22, 32, 10, 24, 16, 28,
            14, 26, 20, 8, 30, 16, 12, 28, 22, 18,
            12, 24, 30, 18, 8, 22, 34, 14, 28, 10,
            28, 14, 20, 34, 12, 30, 16, 24, 10, 26,
            16, 32, 20, 10, 26, 14, 36, 22, 16, 28,
            30, 18, 24, 14, 34, 20, 10, 28, 36, 16,
            22, 34, 12, 28, 20, 38, 16, 30, 26, 14,
            32, 18, 38, 24, 20, 30, 14, 36, 28, 22,
            26, 40, 18, 30, 36, 22, 44, 16, 32, 24,
            36, 16, 40, 24, 32, 20, 38, 28, 46, 22,
            30, 46, 20, 40, 34, 26, 48, 32, 22, 42,
            38, 24, 46, 30, 54, 36, 44, 26, 50, 32,
            44, 66, 38, 56, 46, 40, 62, 50, 74, 46,
            62, 48, 80, 56, 72, 90, 52, 84, 100, 64,
            90, 140, 70, 115, 170, 95, 130, 65, 150, 110,
            180, 125, 230, 90, 200, 150, 110, 270, 130, 220,
            170, 250, 100, 210, 160, 130, 190, 240, 120, 200,
            160, 280, 120, 210, 150, 330, 110, 230, 180, 240]
p6_blue_f = [0.0, 0.023, 0.028, 0.035, 0.042, 0.05, 0.064, 0.079, 0.104, 0.133, 0.17, 0.206,
             0.25, 0.264, 0.279, 0.294, 0.308, 0.33, 0.345, 0.359, 0.388, 0.432, 0.483, 0.519,
             0.563, 0.585, 0.614, 0.65, 0.694, 0.738, 0.81, 0.869, 0.92, 0.956, 1.0]
p6_blue_v = [1500, 460, 334, 270, 227, 197, 155, 133, 108, 91, 78, 67,
             63, 61, 67, 78, 61, 14, 8, 23, 52, 61, 67, 72,
             74, 76, 59, 44, 44, 52, 61, 65, 52, 50, 50]
p6_green_f = [0.0, 0.02, 0.028, 0.031, 0.039, 0.046, 0.053, 0.068, 0.075, 0.097, 0.119, 0.148,
              0.177, 0.213, 0.264, 0.301, 0.337, 0.374, 0.446, 0.49, 0.519, 0.57, 0.614, 0.643,
              0.665, 0.68, 0.698, 0.716, 0.738, 0.81, 0.883, 0.92, 0.956, 1.0]
p6_green_v = [1500, 460, 419, 334, 283, 257, 223, 197, 163, 138, 112, 95,
              82, 74, 61, 57, 52, 46, 40, 38, 35, 40, 31, 50,
              70, 82, 87, 76, 74, 70, 61, 59, 59, 57]
p6_yellow_a = [1500, 1000, 800, 700, 620, 580, 520, 470, 500, 430,
               360, 300, 330, 260, 291, 240, 223, 250, 197, 210,
               170, 146, 190, 140, 150, 125, 160, 121, 135, 110,
               130, 112, 100, 125, 95, 115, 88, 105, 92, 110,
               87, 100, 80, 95, 78, 90, 84, 72, 96, 78,
               88, 70, 82, 76, 65, 90, 68, 80, 60, 74,
               66, 78, 58, 72, 62, 84, 55, 70, 64, 57,
               75, 52, 66, 60, 70, 48, 64, 58, 72, 50,
               62, 55, 68, 46, 60, 52, 66, 56, 48, 62,
               54, 60, 44, 58, 50, 64, 46, 56, 52, 42,
               58, 48, 62, 44, 54, 50, 40, 56, 46, 60,
               42, 54, 48, 58, 38, 52, 44, 56, 50, 46,
               52, 40, 48, 56, 44, 36, 50, 46, 54, 42,
               48, 38, 52, 44, 40, 50, 34, 46, 42, 48,
               36, 44, 50, 38, 42, 30, 46, 40, 35, 44,
               40, 32, 46, 38, 44, 34, 42, 48, 36, 40,
               44, 38, 50, 34, 46, 40, 36, 52, 42, 38,
               46, 40, 54, 44, 38, 50, 42, 56, 46, 48,
               52, 44, 58, 40, 50, 46, 54, 42, 48, 44,
               40, 46, 36, 44, 38, 42, 34, 40, 44, 38]
p6_yellow_b = [1200, 900, 750, 660, 600, 550, 490, 520, 460, 400,
               330, 350, 280, 310, 260, 230, 270, 210, 230, 190,
               155, 175, 150, 130, 165, 140, 130, 150, 120, 140,
               118, 105, 120, 100, 110, 98, 96, 112, 100, 90,
               94, 84, 90, 86, 82, 96, 76, 88, 82, 86,
               76, 84, 72, 70, 80, 74, 86, 66, 78, 70,
               72, 62, 68, 78, 56, 64, 76, 60, 70, 66,
               60, 68, 56, 70, 58, 66, 52, 62, 60, 68,
               56, 64, 50, 58, 54, 62, 50, 60, 58, 52,
               58, 50, 56, 48, 60, 52, 58, 46, 54, 50,
               52, 56, 46, 58, 50, 44, 54, 48, 56, 46,
               50, 46, 56, 44, 52, 48, 40, 54, 46, 52,
               44, 50, 42, 52, 46, 40, 48, 44, 50, 46,
               42, 46, 44, 40, 48, 38, 44, 48, 40, 44,
               40, 38, 46, 42, 36, 44, 40, 38, 42, 46,
               36, 42, 40, 44, 38, 40, 46, 42, 38, 44,
               40, 42, 46, 38, 44, 42, 40, 48, 40, 42,
               42, 48, 44, 50, 42, 46, 48, 52, 44, 46,
               48, 50, 46, 52, 44, 50, 48, 46, 50, 42,
               44, 40, 42, 38, 42, 40, 38, 42, 40, 40]
p6_magenta_a = [1500, 1100, 900, 800, 700, 760, 620, 680, 560, 600,
                520, 580, 480, 540, 460, 500, 470, 219, 420, 380,
                300, 250, 385, 163, 200, 129, 223, 140, 180, 219,
                110, 160, 202, 95, 150, 82, 195, 120, 70, 146,
                100, 168, 60, 130, 91, 168, 55, 115, 80, 140,
                45, 125, 70, 100, 35, 110, 60, 90, 52, 120,
                75, 40, 104, 62, 88, 50, 95, 66, 78, 44,
                92, 58, 72, 100, 48, 84, 64, 87, 38, 70,
                80, 52, 96, 60, 74, 45, 88, 66, 56, 82,
                50, 76, 62, 90, 44, 70, 58, 84, 40, 66,
                74, 54, 87, 48, 68, 60, 82, 42, 72, 56,
                64, 80, 46, 70, 58, 92, 50, 66, 82, 44,
                60, 40, 74, 52, 86, 48, 66, 70, 45, 62,
                55, 70, 48, 64, 80, 42, 58, 72, 50, 66,
                62, 46, 78, 56, 68, 52, 40, 64, 58, 70,
                48, 60, 54, 36, 66, 50, 74, 44, 58, 62,
                52, 68, 45, 56, 40, 62, 50, 74, 58, 46,
                64, 50, 58, 42, 70, 48, 56, 66, 44, 60,
                52, 40, 58, 46, 62, 50, 44, 56, 38, 54,
                48, 42, 56, 27, 50, 44, 40, 52, 36, 46]
p6_magenta_b = [1300, 1000, 850, 740, 820, 660, 720, 640, 580, 540,
                560, 490, 530, 500, 440, 520, 300, 410, 360, 330,
                270, 210, 180, 240, 150, 190, 170, 200, 130, 165,
                140, 185, 120, 170, 105, 160, 90, 135, 150, 110,
                130, 85, 150, 72, 120, 100, 140, 68, 125, 90,
                105, 58, 95, 80, 50, 100, 72, 110, 65, 88,
                92, 60, 84, 70, 98, 56, 78, 90, 50, 74,
                68, 84, 50, 78, 62, 92, 54, 70, 80, 58,
                62, 76, 48, 86, 58, 70, 80, 52, 74, 64,
                72, 54, 80, 60, 68, 50, 76, 62, 70, 56,
                58, 70, 64, 52, 78, 60, 66, 74, 54, 68,
                70, 54, 62, 80, 48, 74, 60, 56, 70, 62,
                50, 66, 58, 70, 54, 62, 48, 76, 56, 64,
                66, 52, 72, 56, 60, 68, 50, 62, 58, 70,
                52, 64, 58, 46, 70, 54, 62, 50, 68, 56,
                60, 50, 66, 54, 48, 62, 56, 64, 50, 58,
                56, 48, 60, 66, 52, 58, 44, 62, 50, 56,
                52, 62, 46, 56, 60, 50, 64, 48, 58, 52,
                46, 56, 50, 60, 44, 54, 58, 48, 52, 46,
                44, 52, 40, 50, 46, 38, 48, 42, 50, 44]


def on_grid(vals, unit):
    """Evenly spaced frequency grid 0..1 for a sampled spectrum."""
    v = np.asarray(vals, dtype=float) * unit
    return np.linspace(0.0, 1.0, len(v)), v


def on_grid_parts(parts, unit):
    """Merge interleaved sample parts back into one spectrum on the 0..1 grid."""
    n = len(parts)
    v = np.empty(sum(len(p) for p in parts))
    for j, part in enumerate(parts):
        v[j::n] = part
    return on_grid(v, unit)


def knots(freqs, vals, unit):
    return np.asarray(freqs, dtype=float), np.asarray(vals, dtype=float) * unit


# Each panel: title, plot box in pixels (left, top, right, bottom), axis ranges,
# y tick step / format, and the five series in SERIES_NAMES order.
panels = [
    dict(title="q-Fourier - Ruído 1/f", box=(68, 38, 574, 395),
         xr=[-0.0042, 1.0478], yr=[-0.00141, 0.16659], dy=0.01, yf=".2f",
         cx=292, ty=19, magx=18, freqy=429, leg=(177, 446, 472),
         series=[knots(p1_red_f, p1_red_v, U4), knots(p1_blue_f, p1_blue_v, U4),
                 knots(p1_green_f, p1_green_v, U4), on_grid(p1_yellow, U4),
                 on_grid(p1_magenta, U4)]),
    dict(title="q-Fourier - Ruído Branco", box=(680, 38, 1168, 395),
         xr=[-0.00215, 1.0473], yr=[-0.000146, 0.025875], dy=0.0025, yf=".4f",
         cx=886, ty=19, magx=612, freqy=429, leg=(771, 446, 472),
         series=[on_grid_parts([p2_red_a, p2_red_b, p2_red_c], U4),
                 knots(p2_blue_f, p2_blue_v, U4),
                 knots(p2_green_f, p2_green_v, U4), on_grid(p2_yellow, U4),
                 on_grid(p2_magenta, U4)]),
    dict(title="q-Fourier - Mapa Logístico (a=4.0)", box=(84, 507, 574, 864),
         xr=[-0.0058, 1.0502], yr=[-0.000209, 0.032245], dy=0.0025, yf=".4f",
         cx=292, ty=488, magx=18, freqy=898, leg=(177, 915, 941),
         series=[on_grid_parts([p3_red_a, p3_red_b, p3_red_c], U4),
                 knots(p3_blue_f, p3_blue_v, U4),
                 knots(p3_green_f, p3_green_v, U4), on_grid(p3_yellow, U4),
                 on_grid(p3_magenta, U4)]),
    dict(title="q-Fourier - Mapa Logístico (a=3.2)", box=(680, 507, 1168, 864),
         xr=[-0.00215, 1.0473], yr=[-0.0000472, 0.0072813], dy=0.0005, yf=".4f",
         cx=886, ty=488, magx=612, freqy=898, leg=(771, 915, 941),
         series=[knots(p4_red_f, p4_red_v, U5), knots(p4_blue_f, p4_blue_v, U5),
                 knots(p4_green_f, p4_green_v, U5), knots(p4_yellow_f, p4_yellow_v, U5),
                 knots(p4_magenta_f, p4_magenta_v, U5)]),
    dict(title="q-Fourier - Série RR (Normal)", box=(84, 976, 574, 1334),
         xr=[-0.0058, 1.0502], yr=[-0.0000442, 0.0068322], dy=0.0005, yf=".4f",
         cx=292, ty=957, magx=18, freqy=1367, leg=(177, 1384, 1408),
         series=[on_grid_parts([p5_red_a, p5_red_b, p5_red_c], U5),
                 knots(p5_blue_f, p5_blue_v, U5),
                 knots(p5_green_f, p5_green_v, U5),
                 on_grid_parts([p5_yellow_a, p5_yellow_b], U5),
                 on_grid_parts([p5_magenta_a, p5_magenta_b], U5)]),
    dict(title="q-Fourier - Série RR (Hipertenso)", box=(686, 976, 1168, 1334),
         xr=[-0.00655, 1.0465], yr=[-0.0000384, 0.0045422], dy=0.0005, yf=".4f",
         cx=886, ty=957, magx=620, freqy=1367, leg=(771, 1384, 1408),
         series=[on_grid_parts([p6_red_a, p6_red_b, p6_red_c], U5),
                 knots(p6_blue_f, p6_blue_v, U5),
                 knots(p6_green_f, p6_green_v, U5),
                 on_grid_parts([p6_yellow_a, p6_yellow_b], U5),
                 on_grid_parts([p6_magenta_a, p6_magenta_b], U5)]),
]

FONT = "DejaVu Sans"
axis_common = dict(
    showgrid=True, gridcolor="#d6d6d6", griddash="2px,2px", gridwidth=1,
    zeroline=False, showline=True, linecolor="#4a4a4a", linewidth=1,
    ticks="outside", ticklen=4, tickcolor="#8a8a8a", tickwidth=1,
    tickfont=dict(family=FONT, size=13, color="#666666"),
    automargin=False,
)

fig = go.Figure()
layout_axes = {}
annotations = []
shapes = []


def px(xp):
    return xp / W


def py(yp):
    return 1 - yp / H


for k, p in enumerate(panels, start=1):
    suffix = "" if k == 1 else str(k)
    xa, ya = "x" + suffix, "y" + suffix
    # series 0 ends up on top of the others
    for s in reversed(range(5)):
        fx, fy = p["series"][s]
        fig.add_trace(go.Scatter(
            x=fx, y=fy, mode="lines", name=SERIES_NAMES[s],
            line=dict(color=SERIES_COLORS[s], width=1),
            xaxis=xa, yaxis=ya, showlegend=False, hoverinfo="skip"))
    L, T, R, B = p["box"]
    layout_axes["xaxis" + suffix] = dict(
        axis_common, domain=[px(L), px(R)], range=p["xr"], anchor=ya,
        tick0=0, dtick=0.1, tickformat=".1f")
    layout_axes["yaxis" + suffix] = dict(
        axis_common, domain=[py(B), py(T)], range=p["yr"], anchor=xa,
        tick0=0, dtick=p["dy"], tickformat=p["yf"])

    annotations.append(dict(
        x=px(p["cx"]), y=py(p["ty"]), xref="paper", yref="paper", showarrow=False,
        text=p["title"], xanchor="center", yanchor="middle",
        font=dict(family=FONT, size=17.5, color="#000000", weight="bold")))
    annotations.append(dict(
        x=px(p["magx"]), y=py((T + B) / 2), xref="paper", yref="paper", showarrow=False,
        text="Magnitude", textangle=-90, xanchor="center", yanchor="middle",
        font=dict(family=FONT, size=14, color="#444444", weight="bold")))
    annotations.append(dict(
        x=px((L + R) / 2), y=py(p["freqy"]), xref="paper", yref="paper", showarrow=False,
        text="Frequência", xanchor="center", yanchor="middle",
        font=dict(family=FONT, size=14, color="#444444", weight="bold")))

    # legend box below the plot
    lx, lt, lb = p["leg"]
    shapes.append(dict(type="rect", xref="paper", yref="paper",
                       x0=px(lx), x1=px(lx + 230), y0=py(lb), y1=py(lt),
                       line=dict(color="#444444", width=1), fillcolor="white"))
    cy = (lt + lb) / 2
    for s, name in enumerate(SERIES_NAMES):
        x0 = lx + 2.5 + s * 45.8
        shapes.append(dict(type="line", xref="paper", yref="paper",
                           x0=px(x0), x1=px(x0 + 14), y0=py(cy), y1=py(cy),
                           line=dict(color=SERIES_COLORS[s], width=1)))
        annotations.append(dict(
            x=px(x0 + 18), y=py(cy), xref="paper", yref="paper", showarrow=False,
            text=name, xanchor="left", yanchor="middle",
            font=dict(family=FONT, size=14, color="#666666")))

fig.update_layout(
    width=W, height=H,
    margin=dict(l=0, r=0, t=0, b=0),
    paper_bgcolor="white", plot_bgcolor="#f4f4ef",
    separators=",.",
    showlegend=False,
    annotations=annotations, shapes=shapes,
    **layout_axes,
)

fig.write_html("out.html")
